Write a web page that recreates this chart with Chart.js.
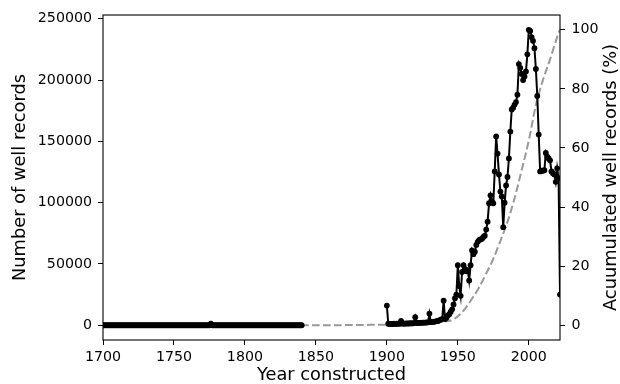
<!DOCTYPE html>
<html>
<head>
<meta charset="utf-8">
<script src="https://cdn.jsdelivr.net/npm/chart.js@4.4.0/dist/chart.umd.min.js"></script>
<style>
  body { margin: 0; background: #fff; }
  #wrap { width: 620px; height: 384px; }
</style>
</head>
<body>
<div id="wrap"><canvas id="chart" width="620" height="384"></canvas></div>
<script>
// yearly counts, first value is year 1700; null = no record for that year
const firstYear = 1700;
const counts = [
  0, 0, 0, 0, 0, 0, 0, 0, 0, 0,          // 1700
  0, 0, 0, 0, 0, 0, 0, 0, 0, 0,          // 1710
  0, 0, 0, 0, 0, 0, 0, 0, 0, 0,          // 1720
  0, 0, 0, 0, 0, 0, 0, 0, 0, 0,          // 1730
  0, 0, 0, 0, 0, 0, 0, 0, 0, 0,          // 1740
  0, 0, 0, 0, 0, 0, 0, 0, 0, 0,          // 1750
  0, 0, 0, 0, 0, 0, 0, 0, 0, 0,          // 1760
  0, 0, 0, 0, 0, 0, 1200, 0, 0, 0,       // 1770
  0, 0, 0, 0, 0, 0, 0, 0, 0, 0,          // 1780
  0, 0, 0, 0, 0, 0, 0, 0, 0, 0,          // 1790
  0, 0, 0, 0, 0, 0, 0, 0, 0, 0,          // 1800
  0, 0, 0, 0, 0, 0, 0, 0, 0, 0,          // 1810
  0, 0, 0, 0, 0, 0, 0, 0, 0, 0,          // 1820
  0, 0, 0, 0, 0, 0, 0, 0, 0, 0,          // 1830
  0, null, null, null, null, null, null, null, null, null,             // 1840
  null, null, null, null, null, null, null, null, null, null,          // 1850
  null, null, null, null, null, null, null, null, null, null,          // 1860
  null, null, null, null, null, null, null, null, null, null,          // 1870
  null, null, null, null, null, null, null, null, null, null,          // 1880
  null, null, null, null, null, null, null, null, null, null,          // 1890
  16000, 1200, 1000, 1100, 1000, 1300, 1100, 1200, 1300, 1200,        // 1900
  3500, 1300, 1400, 1300, 1500, 1400, 1500, 1600, 1500, 1700,          // 1910
  6500, 1800, 1900, 2000, 1900, 2100, 2200, 2100, 2300, 2400,          // 1920
  9500, 2500, 2600, 2800, 3000, 3300, 3500, 4000, 4500, 5000,          // 1930
  20000, 5000, 6000, 8000, 9000, 11000, 13000, 17000, 22000, 25000,    // 1940
  49000, 32000, 24000, 43500, 49000, 46000, 44000, 45000, 36500, 49000,          // 1950
  61000, 58000, 60000, 65500, 68000, 69500, 70000, 70500, 72000, 73000,          // 1960
  78000, 84500, 99500, 106000, 101000, 99500, 125500, 154000, 140000, 123000,    // 1970
  109000, 105000, 80000, 100000, 114000, 121000, 136000, 158000, 176000, 177500, // 1980
  180000, 182000, 188000, 213000, 210000, 205000, 200000, 203000, 207000, 221000, // 1990
  241000, 240000, 235000, 232000, 226000, 209000, 187000, 155500, 125500, 126000, // 2000
  126000, 126500, 140500, 137500, 136000, 134500, 125500, 124000, 123000, 117000, // 2010
  128000, 120000, 25000                                                           // 2020
];

// accumulated share of records (%), read at selected years
const cumYears = [1700, 1850, 1900, 1910, 1920, 1930, 1935, 1940, 1945, 1950, 1955, 1960, 1965,
                  1970, 1975, 1980, 1985, 1990, 1995, 2000, 2005, 2010, 2015, 2020, 2022];
const cumPct   = [0, 0, 0.2, 0.3, 0.5, 0.8, 1.0, 1.3, 1.6, 3.0, 5.5, 9.0, 12.8,
                  17.5, 22.5, 28.5, 35, 43, 52.5, 62.5, 74.5, 83, 90, 97.5, 100];

const xTicks = [1700, 1750, 1800, 1850, 1900, 1950, 2000];
const leftTicks = [0, 50000, 100000, 150000, 200000, 250000];
const rightTicks = [0, 20, 40, 60, 80, 100];

Chart.defaults.font.family = 'DejaVu Sans';
Chart.defaults.color = '#000';

const countPoints = counts.map((v, i) => ({ x: firstYear + i, y: v }));
const cumPoints = cumYears.map((yr, i) => ({ x: yr, y: cumPct[i] }));

// box around the plot + right axis title (reads bottom to top)
const frame = {
  id: 'frame',
  afterDraw(chart) {
    const { ctx, chartArea: a } = chart;
    ctx.save();
    ctx.strokeStyle = '#000';
    ctx.lineWidth = 1.1;
    ctx.strokeRect(a.left, a.top, a.right - a.left, a.bottom - a.top);
    ctx.translate(611, (a.top + a.bottom) / 2);
    ctx.rotate(-Math.PI / 2);
    ctx.font = '17.8px "DejaVu Sans"';
    ctx.fillStyle = '#000';
    ctx.textAlign = 'center';
    ctx.textBaseline = 'middle';
    ctx.fillText('Acuumulated well records (%)', 0, 0);
    ctx.restore();
  }
};

const tickGrid = { display: true, drawOnChartArea: false, drawTicks: true, tickLength: 5, color: '#000', tickWidth: 1 };

new Chart(document.getElementById('chart'), {
  type: 'line',
  data: {
    datasets: [
      {
        data: countPoints,
        yAxisID: 'y',
        borderColor: '#000',
        backgroundColor: '#000',
        borderWidth: 2,
        pointRadius: 2.9,
        pointBorderWidth: 0,
        tension: 0,
        spanGaps: false,
        clip: 0
      },
      {
        data: cumPoints,
        yAxisID: 'y2',
        borderColor: '#999999',
        borderWidth: 2,
        borderDash: [7.7, 3.3],
        pointRadius: 0,
        cubicInterpolationMode: 'monotone',
        clip: 0
      }
    ]
  },
  options: {
    responsive: false,
    animation: false,
    devicePixelRatio: 1,
    layout: { padding: { top: 14, left: 0, right: 0, bottom: 0 } },
    plugins: { legend: { display: false }, tooltip: { enabled: false } },
    scales: {
      x: {
        type: 'linear',
        min: 1700,
        max: 2022,
        border: { display: false },
        grid: tickGrid,
        afterBuildTicks: s => { s.ticks = xTicks.map(v => ({ value: v })); },
        afterFit: s => { s.height = 44; },
        ticks: { font: { size: 14.2 }, padding: 4, maxRotation: 0, callback: v => String(v) },
        title: { display: true, text: 'Year constructed', font: { size: 17.8, lineHeight: 1.0 }, padding: { top: 0, bottom: 0 } }
      },
      y: {
        position: 'left',
        min: -12050,
        max: 253050,
        border: { display: false },
        grid: tickGrid,
        afterBuildTicks: s => { s.ticks = leftTicks.map(v => ({ value: v })); },
        afterFit: s => { s.width = 103; },
        ticks: { font: { size: 14.2 }, padding: 6, callback: v => String(v) },
        title: { display: true, text: 'Number of well records', font: { size: 17.8, lineHeight: 1.2 }, padding: { top: 10, bottom: 0 } }
      },
      y2: {
        position: 'right',
        min: -5,
        max: 105,
        border: { display: false },
        grid: tickGrid,
        afterBuildTicks: s => { s.ticks = rightTicks.map(v => ({ value: v })); },
        afterFit: s => { s.width = 60; },
        ticks: { font: { size: 14.2 }, padding: 6.5, callback: v => String(v) }
      }
    }
  },
  plugins: [frame]
});
</script>
</body>
</html>
